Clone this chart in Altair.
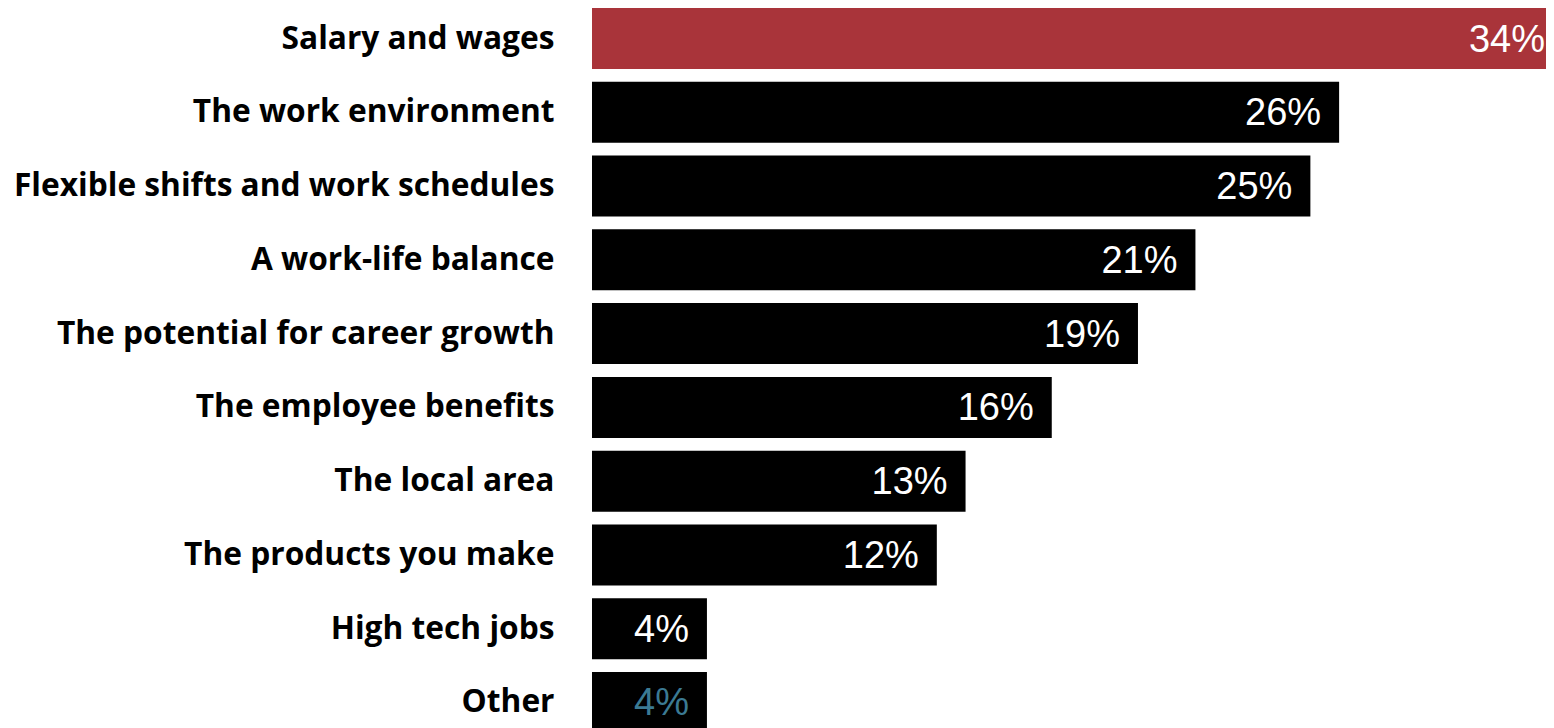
import altair as alt
import pandas as pd

categories = [
    "Salary and wages",
    "The work environment",
    "Flexible shifts and work schedules",
    "A work-life balance",
    "The potential for career growth",
    "The employee benefits",
    "The local area",
    "The products you make",
    "High tech jobs",
    "Other",
]
values = [34, 26, 25, 21, 19, 16, 13, 12, 4, 4]
labels = ["34%", "26%", "25%", "21%", "19%", "16%", "13%", "12%", "4%", "4%"]
bar_colors = ["#a9343a"] + ["#000000"] * 9
label_colors = ["#ffffff"] * 9 + ["#3b7a93"]

df = pd.DataFrame({
    "category": categories,
    "value": values,
    "label": labels,
    "bar_color": bar_colors,
    "label_color": label_colors,
})

base = alt.Chart(df).encode(
    x=alt.X("value:Q", scale=alt.Scale(domain=[0, 34], nice=False, range=[0, 977]), axis=None),
    y=alt.Y(
        "category:N",
        sort=categories,
        scale=alt.Scale(paddingInner=0.173, paddingOuter=0, range=[0, 725]),
        axis=alt.Axis(
            title=None,
            ticks=False,
            domain=False,
            labelPadding=38,
            labelFont="Open Sans",
            labelFontWeight="bold",
            labelFontSize=31.7,
            labelColor="#000000",
            labelLimit=1000,
        ),
    ),
)

bars = base.mark_bar().encode(
    color=alt.Color("bar_color:N", scale=None, legend=None),
)

text_rest = base.mark_text(
    align="right", baseline="middle", dx=-18, dy=2,
    font="Liberation Sans", fontSize=38,
).encode(
    text="label:N",
    color=alt.Color("label_color:N", scale=None, legend=None),
).transform_filter(alt.datum.value < 34)

text_top = base.mark_text(
    align="right", baseline="middle", dx=-24, dy=2,
    font="Liberation Sans", fontSize=38,
).encode(
    text="label:N",
    color=alt.Color("label_color:N", scale=None, legend=None),
).transform_filter(alt.datum.value >= 34)

chart = (bars + text_rest + text_top).properties(
    width=954,
    height=720,
    autosize=alt.AutoSizeParams(type="none"),
    padding={"left": 584, "top": 0, "right": 0, "bottom": 0},
).configure_view(stroke=None).configure_axis(grid=False)

chart.save("out.html", embed_options={"renderer": "svg", "actions": False})
